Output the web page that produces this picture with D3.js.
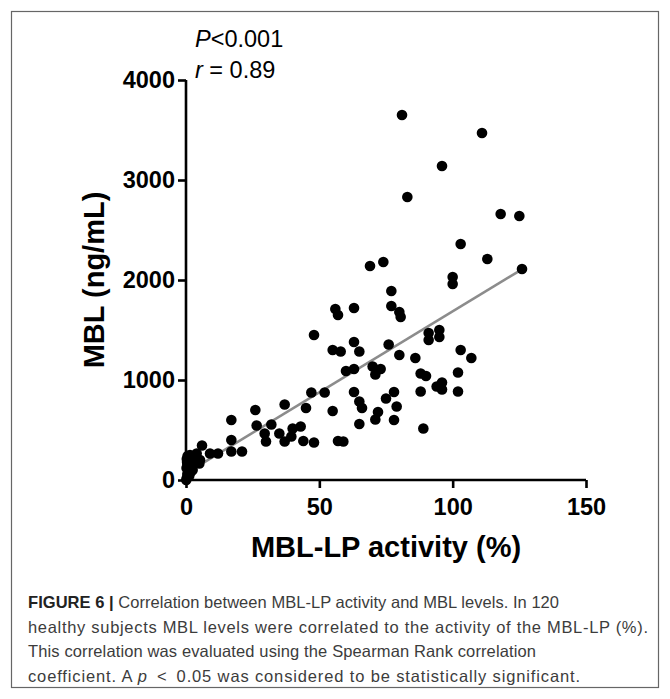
<!DOCTYPE html>
<html>
<head>
<meta charset="utf-8">
<script src="https://cdn.jsdelivr.net/npm/d3@7"></script>
<style>
html,body{margin:0;padding:0;background:#fff;}
svg{display:block;}
</style>
</head>
<body>
<svg id="chart" width="670" height="699"></svg>
<script>
// MBL-LP activity (%) for each subject
const activity = [81,111,96,83,118,125,103,113,126,74,69,100,100,77,56,57,63,77,80,80.5,
  91,91,95,95,48,63,55,58,65,76,80,86,103,107,60,63,70,73,71,88,
  90,102,94,96,96,88,102,63,52,47,78,75,65,66,79,55,72,71,78,65,
  89,57,59,45,37,26,17,26.5,32,29.5,35,40,43,30,37,39.5,44,48,17,17,
  21,12,9,6,4,2.75,5.25,1,2,5,0.3,0.5,0.8,1,0.4,0.6,1.5,1.8,0.2,1.2,
  2.2,0.1,3,1.5,0.5,2.5,1,0.3];
// MBL level (ng/mL) for each subject
const mbl = [3650,3470,3140,2830,2660,2640,2360,2210,2110,2180,2140,2030,1960,1890,1710,1650,1720,1740,1680,1630,
  1470,1400,1500,1430,1450,1380,1300,1285,1285,1355,1250,1220,1300,1220,1090,1110,1135,1110,1055,1065,
  1040,1075,935,975,905,885,885,880,875,875,880,815,785,720,735,690,680,605,600,560,
  515,390,385,720,755,700,600,545,555,465,465,515,535,385,385,435,390,375,400,285,
  285,265,265,345,265,200,200,215,165,165,20,60,100,140,180,240,250,80,120,40,
  130,0,240,190,160,100,70,210];
// Regression line end points (x, y)
const fitX = [0, 126];
const fitY = [67, 2107];
const xTicks = [0, 50, 100, 150];
const yTicks = [0, 1000, 2000, 3000, 4000];
const captionLines = [
  [{t:"FIGURE 6 | ", b:true}, {t:"Correlation between MBL-LP activity and MBL levels. In 120"}],
  [{t:"healthy subjects MBL levels were correlated to the activity of the MBL-LP (%)."}],
  [{t:"This correlation was evaluated using the Spearman Rank correlation"}],
  [{t:"coefficient. A "}, {t:"p", i:true}, {t:" < ", wide:true}, {t:"0.05 was considered to be statistically significant."}]
];
const captionWidths = [531, 620, 508, 552];

const svg = d3.select("#chart");
const font = "'Liberation Sans', Arial, Helvetica, sans-serif";

// outer frame
svg.append("rect").attr("x", 11.5).attr("y", 11.5).attr("width", 647).attr("height", 676)
  .attr("fill", "none").attr("stroke", "#666").attr("stroke-width", 1.2);

const x = d3.scaleLinear().domain([0, 150]).range([186, 586]);
const y = d3.scaleLinear().domain([0, 4000]).range([480, 80]);

// axes
const xAxis = d3.axisBottom(x).tickValues(xTicks).tickSize(8).tickPadding(10)
  .tickSizeOuter(0).tickFormat(d3.format("d"));
const yAxis = d3.axisLeft(y).tickValues(yTicks).tickSize(8).tickPadding(3)
  .tickSizeOuter(0).tickFormat(d3.format("d"));

const gx = svg.append("g").attr("transform", "translate(0,480)").call(xAxis);
const gy = svg.append("g").attr("transform", "translate(186,0)").call(yAxis);
[gx, gy].forEach(g => {
  g.select(".domain").attr("stroke", "#000").attr("stroke-width", 2.6);
  g.selectAll(".tick line").attr("stroke", "#000").attr("stroke-width", 2.6);
  g.selectAll(".tick text").attr("fill", "#000").style("font-family", font)
    .style("font-weight", "bold").style("font-size", "23.5px");
});
gx.select(".domain").attr("d", `M${x(0)},0H${x(150)}`);
gy.select(".domain").attr("d", `M0,${y(0)}V${y(4000)}`);

// regression line
svg.append("line")
  .attr("x1", x(fitX[0])).attr("y1", y(fitY[0]))
  .attr("x2", x(fitX[1])).attr("y2", y(fitY[1]))
  .attr("stroke", "#8c8c8c").attr("stroke-width", 2.6);

// points
svg.append("g").selectAll("circle")
  .data(activity.map((a, i) => [a, mbl[i]]))
  .join("circle")
  .attr("cx", d => x(d[0])).attr("cy", d => y(d[1])).attr("r", 5.3)
  .attr("fill", "#000");

// axis titles
svg.append("text").attr("x", 386).attr("y", 557).attr("text-anchor", "middle")
  .style("font-family", font).style("font-weight", "bold").style("font-size", "29px")
  .text("MBL-LP activity (%)");
svg.append("text").attr("transform", "translate(104,280) rotate(-90)").attr("text-anchor", "middle")
  .style("font-family", font).style("font-weight", "bold").style("font-size", "29px")
  .text("MBL (ng/mL)");

// stats annotation
const st = svg.append("text").attr("x", 195).attr("y", 47)
  .style("font-family", font).style("font-size", "23.5px").attr("fill", "#000");
st.append("tspan").style("font-style", "italic").text("P");
st.append("tspan").text("<0.001");
const st2 = svg.append("text").attr("x", 195).attr("y", 78)
  .style("font-family", font).style("font-size", "23.5px").attr("fill", "#000");
st2.append("tspan").style("font-style", "italic").text("r");
st2.append("tspan").text(" = 0.89");

// caption
captionLines.forEach((line, i) => {
  const t = svg.append("text").attr("x", 28).attr("y", 608 + i * 24.5)
    .attr("textLength", captionWidths[i]).attr("lengthAdjust", "spacing")
    .attr("xml:space", "preserve")
    .style("font-family", font).style("font-size", "16.5px").attr("fill", "#3c3c3c");
  line.forEach(seg => {
    const s = t.append("tspan").text(seg.wide ? "\u2002<\u2002" : seg.t);
    if (seg.b) s.style("font-weight", "bold").attr("fill", "#222");
    if (seg.i) s.style("font-style", "italic");
  });
});
</script>
</body>
</html>
